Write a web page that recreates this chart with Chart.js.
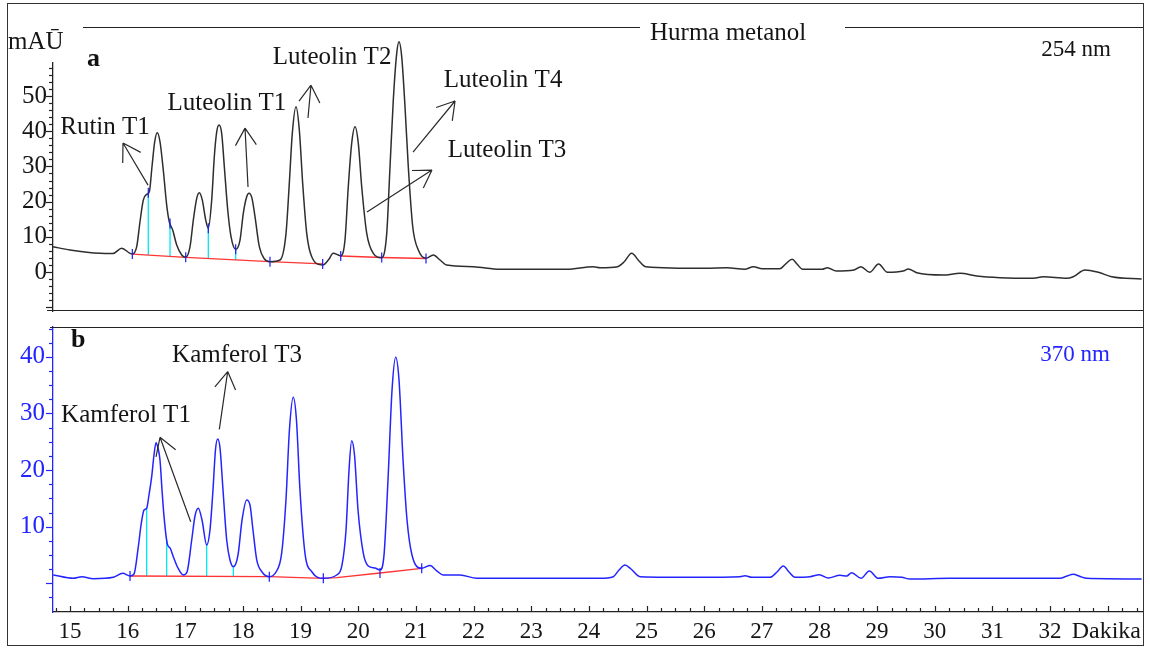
<!DOCTYPE html>
<html>
<head>
<meta charset="utf-8">
<script src="https://cdn.jsdelivr.net/npm/chart.js@4.4.1/dist/chart.umd.min.js"></script>
<style>
  html, body { margin: 0; padding: 0; background: #fff; }
  #wrap { position: relative; width: 1150px; height: 650px; overflow: hidden; }
  #frame { position: absolute; left: 7px; top: 3px; width: 1135px; height: 641px; border: 1px solid #333; }
  .box { position: absolute; left: 0; width: 1150px; }
</style>
</head>
<body>
<div id="wrap">
  <div id="frame"></div>
  <div class="box" style="top:0;height:320px"><canvas id="chartA"></canvas></div>
  <div class="box" style="top:320px;height:330px"><canvas id="chartB"></canvas></div>
</div>
<script>
// ============================================================
// DATA
// ============================================================
const minuteTicks = [15, 16, 17, 18, 19, 20, 21, 22, 23, 24, 25, 26, 27, 28, 29, 30, 31, 32];
const tickLabelsA = [0, 10, 20, 30, 40, 50];
const tickLabelsB = [10, 20, 30, 40];

// panel a - 254 nm
const timeA = [14.705, 15.00, 15.52, 15.746, 15.897, 16.041, 16.081, 16.157, 16.214, 16.271,
  16.330, 16.376, 16.422, 16.469, 16.514, 16.561, 16.618, 16.677, 16.722, 16.781,
  16.851, 16.938, 17.007, 17.082, 17.139, 17.198, 17.243, 17.295, 17.354, 17.399,
  17.458, 17.503, 17.545, 17.585, 17.631, 17.677, 17.736, 17.793, 17.874, 17.949,
  18.006, 18.065, 18.105, 18.157, 18.209, 18.284, 18.365, 18.469, 18.643, 18.747,
  18.804, 18.856, 18.920, 18.978, 19.036, 19.106, 19.193, 19.383, 19.481, 19.567,
  19.654, 19.696, 19.770, 19.827, 19.886, 19.944, 20.001, 20.060, 20.147, 20.261,
  20.407, 20.494, 20.551, 20.608, 20.667, 20.707, 20.754, 20.811, 20.868, 20.945,
  21.042, 21.175, 21.302, 21.418, 21.534, 21.996, 22.459, 23.036, 23.616, 24.077,
  24.193, 24.499, 24.61, 24.743, 24.87, 24.988, 26.029, 26.395, 26.702, 26.855,
  27.007, 27.313, 27.42, 27.527, 27.61, 27.709, 28.046, 28.138, 28.291, 28.598,
  28.719, 28.872, 29.026, 29.179, 29.453, 29.541, 29.687, 30.148, 30.438, 30.728,
  31.132, 31.709, 31.883, 32.289, 32.403, 32.606, 32.837, 33.069, 33.589];
const signalA = [7.19, 6.25, 5.31, 5.26, 6.73, 5.31, 5.11, 7.19, 14.29, 20.45,
  22.07, 22.81, 29.91, 37.02, 39.57, 37.02, 28.98, 19.03, 14.29, 11.93,
  7.67, 4.83, 4.18, 7.19, 14.77, 20.94, 22.53, 20.45, 14.77, 12.41,
  20.45, 32.76, 39.86, 41.76, 39.40, 29.91, 17.61, 10.03, 6.45, 9.09,
  16.68, 21.39, 22.36, 20.94, 15.71, 7.19, 3.89, 2.93, 3.41, 10.99,
  25.20, 39.40, 46.96, 40.34, 25.20, 10.99, 4.35, 1.99, 3.41, 5.31,
  4.83, 4.55, 9.09, 24.23, 36.56, 41.28, 36.56, 24.23, 10.99, 5.31,
  4.06, 10.99, 29.91, 48.86, 62.13, 65.43, 61.16, 46.96, 29.91, 12.87,
  6.25, 3.89, 4.83, 3.41, 1.99, 1.51, 0.77, 0.77, 0.77, 1.51,
  1.22, 1.51, 2.84, 5.31, 3.13, 1.51, 1.05, 1.22, 0.77, 1.51,
  0.94, 0.94, 2.41, 3.61, 2.27, 0.77, 0.77, 1.22, 0.28, 0.57,
  1.51, -0.09, 2.27, -0.09, 0.28, 0.85, -0.20, -0.85, -0.37, -1.14,
  -1.62, -1.79, -1.34, -1.79, -1.34, 0.57, -0.09, -1.34, -1.99];
const baseA1Time = [16.081, 17.007, 18.469, 19.383];
const baseA1Value = [5.11, 4.18, 2.93, 2.3];
const baseA2Time = [19.696, 20.407, 21.175];
const baseA2Value = [4.55, 4.12, 3.84];
const dropATime = [16.358, 16.735, 17.399, 17.874];
const dropALow = [4.8, 4.5, 3.8, 3.4];
const dropAHigh = [22.5, 13.8, 12.41, 6.45];
const markATime = [16.081, 16.358, 16.735, 17.007, 17.399, 17.874, 18.469, 19.383, 19.696, 20.407, 21.175];
const markAValue = [5.11, 22.5, 13.8, 4.18, 12.41, 6.45, 2.93, 2.3, 4.55, 4.12, 3.84];

// panel b - 370 nm
const timeB = [14.710, 15.057, 15.203, 15.404, 15.751, 15.914, 16.041, 16.110, 16.185, 16.232,
  16.284, 16.330, 16.370, 16.417, 16.457, 16.492, 16.526, 16.561, 16.596, 16.631,
  16.688, 16.735, 16.792, 16.873, 16.965, 17.030, 17.111, 17.168, 17.225, 17.290,
  17.371, 17.428, 17.480, 17.523, 17.562, 17.602, 17.654, 17.718, 17.775, 17.833,
  17.914, 17.984, 18.065, 18.122, 18.174, 18.239, 18.331, 18.457, 18.573, 18.671,
  18.746, 18.806, 18.873, 18.928, 18.989, 19.076, 19.198, 19.394, 19.626, 19.718,
  19.788, 19.840, 19.886, 19.935, 19.996, 20.088, 20.174, 20.290, 20.377, 20.447,
  20.516, 20.586, 20.650, 20.707, 20.777, 20.846, 20.932, 21.101, 21.245, 21.366,
  21.475, 21.765, 22.055, 23.673, 24.193, 24.424, 24.523, 24.627, 24.731, 24.887,
  25.928, 26.622, 26.709, 26.825, 27.142, 27.264, 27.373, 27.472, 27.576, 27.836,
  27.997, 28.153, 28.356, 28.472, 28.559, 28.721, 28.865, 29.021, 29.224, 29.427,
  29.571, 30.264, 32.173, 32.294, 32.403, 32.520, 32.636, 33.589];
const signalB = [1.47, 0.88, 1.17, 0.81, 1.06, 1.77, 1.29, 1.64, 6.47, 10.30,
  12.95, 13.25, 15.60, 18.83, 22.67, 24.84, 23.90, 21.78, 16.48, 11.77,
  6.94, 6.24, 4.70, 2.70, 1.47, 2.0, 7.65, 11.89, 13.25, 11.18,
  6.77, 9.42, 16.48, 23.55, 25.49, 23.90, 16.48, 7.65, 4.12, 2.93,
  5.0, 11.18, 14.72, 13.83, 9.42, 4.12, 2.0, 1.17, 2.0, 5.30,
  14.72, 27.08, 32.86, 28.85, 16.48, 5.30, 2.0, 0.88, 1.47, 3.23,
  9.42, 20.02, 25.19, 22.67, 12.95, 5.30, 3.06, 2.70, 2.35, 5.0,
  18.25, 34.15, 39.93, 35.92, 21.78, 11.18, 5.0, 2.65, 3.14, 2.17,
  1.47, 1.47, 0.88, 0.88, 0.88, 1.17, 2.35, 3.23, 2.53, 1.17,
  1.06, 1.17, 1.34, 1.06, 1.06, 2.0, 3.06, 2.0, 1.06, 1.17,
  1.52, 0.94, 1.41, 1.29, 1.87, 0.88, 2.17, 0.88, 1.17, 1.06,
  0.76, 0.88, 0.88, 1.29, 1.59, 1.20, 0.88, 0.76];
const baseBTime = [16.041, 18.457, 19.394, 19.626, 20.377, 21.101];
const baseBValue = [1.29, 1.17, 0.88, 1.0, 1.82, 2.65];
const dropBTime = [16.330, 16.677, 17.371, 17.833];
const dropBLow = [1.27, 1.26, 1.23, 1.21];
const dropBHigh = [13.25, 7.6, 6.77, 2.93];
const markBTime = [16.041, 18.457, 19.394, 20.377, 21.101];
const markBValue = [1.29, 1.17, 0.88, 1.82, 2.65];

// ============================================================
// ANNOTATIONS (text + arrow, in minutes / mAU)
// ============================================================
const annotationsA = [
  { label: 'Rutin T1', at: [15.607, 41.2], tail: [16.353, 24.7], head: [15.919, 36.65] },
  { label: 'Luteolin T1', at: [17.722, 48.0], tail: [18.088, 24.15], head: [18.036, 40.9] },
  { label: 'Luteolin T2', at: [19.545, 61.08], tail: [19.128, 43.75], head: [19.180, 53.1] },
  { label: 'Luteolin T4', at: [22.511, 54.55], tail: [20.950, 34.1], head: [21.679, 48.6] },
  { label: 'Luteolin T3', at: [22.58, 34.66], tail: [20.152, 17.05], head: [21.279, 28.98] }
];
const annotationsB = [
  { label: 'Kamferol T3', at: [17.897, 40.34], tail: [17.590, 27.2], head: [17.735, 37.4] },
  { label: 'Kamferol T1', at: [15.971, 29.74], tail: [17.094, 10.88], head: [16.561, 25.8] }
];

const X_MIN = 14.705, X_MAX = 33.595;
const SERIF = '"Liberation Serif", "Times New Roman", serif';
const BLUE = '#2424ff';

// ============================================================
// HELPERS
// ============================================================
const pts = (ts, vs) => ts.map((t, i) => ({ x: t, y: vs[i] }));

function dropSets(times, lows, highs) {
  return times.map((t, i) => ({
    data: [{ x: t, y: lows[i] }, { x: t, y: highs[i] }],
    borderColor: '#00e6ee', borderWidth: 1.3, pointRadius: 0, tension: 0
  }));
}

function lineSet(data, color, width, extra) {
  return Object.assign({ data, borderColor: color, borderWidth: width, pointRadius: 0, tension: 0 }, extra || {});
}

function markSet(data) {
  return { data, showLine: false, pointStyle: 'line', rotation: 90, pointRadius: 5,
           borderColor: '#1a1aff', borderWidth: 1.2, pointBorderColor: '#1a1aff' };
}

function noEdgePadding(s) {
  s.paddingTop = 0; s.paddingBottom = 0; s.paddingLeft = 0; s.paddingRight = 0;
}

// draws frame lines, hand made tick marks, texts and arrows
const chromPlugin = {
  id: 'chrom',
  afterDraw(chart, args, o) {
    const ctx = chart.ctx, xs = chart.scales.x, ys = chart.scales.y, area = chart.chartArea;
    ctx.save();
    ctx.lineWidth = 1.2;
    ctx.strokeStyle = '#222';
    o.lines.forEach(l => {
      ctx.beginPath(); ctx.moveTo(l[0], l[1] + 0.5); ctx.lineTo(l[2], l[3] + 0.5); ctx.stroke();
    });

    // y tick marks (left)
    const yt = o.yTicks;
    ctx.strokeStyle = yt.color;
    for (let v = yt.from; v <= yt.to + 1e-6; v += yt.step) {
      const y = Math.round(ys.getPixelForValue(v)) + 0.5;
      const len = Math.abs(v % yt.major) < 1e-6 ? 7 : 4;
      ctx.beginPath(); ctx.moveTo(area.left, y); ctx.lineTo(area.left - len, y); ctx.stroke();
    }
    // x tick marks (pointing up)
    if (o.xTicks) {
      const xt = o.xTicks;
      ctx.strokeStyle = '#222';
      for (let t = xt.from; t <= xt.to + 1e-6; t += xt.step) {
        const x = Math.round(xs.getPixelForValue(t)) + 0.5;
        const len = Math.abs(t - Math.round(t)) < 1e-6 ? 6 : 4;
        ctx.beginPath(); ctx.moveTo(x, area.bottom); ctx.lineTo(x, area.bottom - len); ctx.stroke();
      }
    }

    // annotations
    ctx.fillStyle = '#151515';
    ctx.strokeStyle = '#2a2a2a';
    ctx.font = '25px ' + SERIF;
    ctx.textAlign = 'center';
    ctx.textBaseline = 'middle';
    o.annotations.forEach(a => {
      ctx.fillText(a.label, xs.getPixelForValue(a.at[0]), ys.getPixelForValue(a.at[1]));
      const x0 = xs.getPixelForValue(a.tail[0]), y0 = ys.getPixelForValue(a.tail[1]);
      const x1 = xs.getPixelForValue(a.head[0]), y1 = ys.getPixelForValue(a.head[1]);
      const ang = Math.atan2(y0 - y1, x0 - x1);
      ctx.beginPath();
      ctx.moveTo(x0, y0); ctx.lineTo(x1, y1);
      [-0.55, 0.55].forEach(d => {
        ctx.moveTo(x1, y1);
        ctx.lineTo(x1 + 20 * Math.cos(ang + d), y1 + 20 * Math.sin(ang + d));
      });
      ctx.stroke();
    });

    // fixed texts
    o.texts.forEach(t => {
      ctx.font = t.font;
      ctx.fillStyle = t.color;
      ctx.textAlign = t.align;
      ctx.fillText(t.text, t.x, t.y);
    });
    ctx.restore();
  }
};

// ============================================================
// CHART a (254 nm)
// ============================================================
const chartA = new Chart(document.getElementById('chartA'), {
  type: 'line',
  data: {
    datasets: [
      markSet(pts(markATime, markAValue)),
      lineSet(pts(timeA, signalA), '#2e2e2e', 1.5, { cubicInterpolationMode: 'monotone', clip: false }),
      lineSet(pts(baseA1Time, baseA1Value), '#ff3434', 1.3),
      lineSet(pts(baseA2Time, baseA2Value), '#ff3434', 1.3),
      ...dropSets(dropATime, dropALow, dropAHigh)
    ]
  },
  options: {
    responsive: true, maintainAspectRatio: false, animation: false, devicePixelRatio: 1,
    layout: { padding: { left: 0, right: 8, top: 63, bottom: 9 } },
    plugins: {
      legend: { display: false }, tooltip: { enabled: false },
      chrom: {
        lines: [[83, 27, 640, 27], [845, 27, 1143, 27], [47, 310, 1143, 310]],
        yTicks: { from: -10, to: 58, step: 2, major: 10, color: '#222' },
        annotations: annotationsA,
        texts: [
          { text: 'mAŪ', x: 8, y: 42, align: 'left', font: '25px ' + SERIF, color: '#151515' },
          { text: 'a', x: 87, y: 59, align: 'left', font: 'bold 26px ' + SERIF, color: '#111' },
          { text: 'Hurma metanol', x: 650, y: 33, align: 'left', font: '25px ' + SERIF, color: '#151515' },
          { text: '254 nm', x: 1111, y: 50, align: 'right', font: '23px ' + SERIF, color: '#151515' }
        ]
      }
    },
    scales: {
      x: { type: 'linear', min: X_MIN, max: X_MAX, display: false },
      y: {
        min: -11.08, max: 59.4,
        afterBuildTicks: s => { s.ticks = tickLabelsA.map(v => ({ value: v })); },
        afterFit: s => { s.width = 53; noEdgePadding(s); },
        grid: { display: false, drawTicks: false },
        border: { color: '#222', width: 1.3 },
        ticks: { color: '#151515', padding: 6, font: { family: SERIF, size: 25 } }
      }
    }
  },
  plugins: [chromPlugin]
});

// ============================================================
// CHART b (370 nm)
// ============================================================
const chartB = new Chart(document.getElementById('chartB'), {
  type: 'line',
  data: {
    datasets: [
      markSet(pts(markBTime, markBValue)),
      lineSet(pts(timeB, signalB), BLUE, 1.5, { cubicInterpolationMode: 'monotone' }),
      lineSet(pts(baseBTime, baseBValue), '#ff3434', 1.3),
      ...dropSets(dropBTime, dropBLow, dropBHigh)
    ]
  },
  options: {
    responsive: true, maintainAspectRatio: false, animation: false, devicePixelRatio: 1,
    layout: { padding: { left: 0, right: 8, top: 7, bottom: 0 } },
    plugins: {
      legend: { display: false }, tooltip: { enabled: false },
      chrom: {
        lines: [[50, 7, 1143, 7]],
        yTicks: { from: -2.5, to: 45, step: 2.5, major: 10, color: BLUE },
        xTicks: { from: 14.75, to: 33.5, step: 0.25 },
        annotations: annotationsB,
        texts: [
          { text: 'b', x: 71, y: 20, align: 'left', font: 'bold 26px ' + SERIF, color: '#111' },
          { text: '370 nm', x: 1110, y: 35, align: 'right', font: '23px ' + SERIF, color: BLUE },
          { text: 'Dakika', x: 1141, y: 312, align: 'right', font: '24px ' + SERIF, color: '#151515' }
        ]
      }
    },
    scales: {
      x: {
        type: 'linear', min: X_MIN, max: X_MAX,
        afterBuildTicks: s => { s.ticks = minuteTicks.map(v => ({ value: v })); },
        afterFit: s => { s.height = 38; noEdgePadding(s); },
        grid: { display: false, drawTicks: false },
        border: { color: '#222', width: 1.3 },
        ticks: { autoSkip: false, maxRotation: 0, color: '#151515', padding: 6, font: { family: SERIF, size: 23 } }
      },
      y: {
        min: -5.07, max: 45.28,
        afterBuildTicks: s => { s.ticks = tickLabelsB.map(v => ({ value: v })); },
        afterFit: s => { s.width = 53; noEdgePadding(s); },
        grid: { display: false, drawTicks: false },
        border: { color: BLUE, width: 1.3 },
        ticks: { color: BLUE, padding: 8, font: { family: SERIF, size: 25 } }
      }
    }
  },
  plugins: [chromPlugin]
});
</script>
</body>
</html>
